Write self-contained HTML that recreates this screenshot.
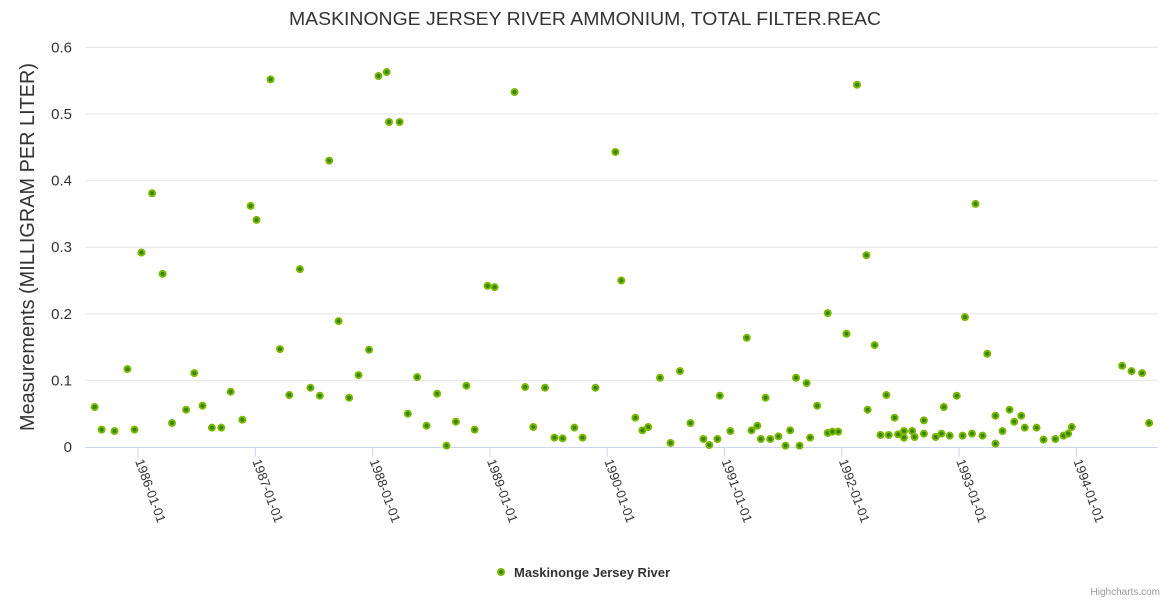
<!DOCTYPE html>
<html><head><meta charset="utf-8"><style>
body{margin:0;background:#fff;font-family:"Liberation Sans",sans-serif}
svg text{font-family:"Liberation Sans",sans-serif}
</style></head><body>
<svg id="chart" width="1170" height="600" xmlns="http://www.w3.org/2000/svg">
<rect width="1170" height="600" fill="#fff"/>
<text x="585" y="25" text-anchor="middle" font-size="18" fill="#333" textLength="592" lengthAdjust="spacingAndGlyphs">MASKINONGE JERSEY RIVER AMMONIUM, TOTAL FILTER.REAC</text>
<text transform="translate(34,247) rotate(-90)" text-anchor="middle" font-size="20" fill="#333" textLength="368" lengthAdjust="spacingAndGlyphs">Measurements (MILLIGRAM PER LITER)</text>
<g id="grid"></g><g id="xaxis"></g><g id="points"></g>
<g>
<circle cx="501" cy="572" r="4" fill="#7ab800"/><circle cx="501" cy="572" r="2" fill="#3a8500"/>
<text x="514" y="577" font-size="13" font-weight="bold" fill="#333">Maskinonge Jersey River</text></g>
<text x="1160" y="595" text-anchor="end" font-size="10" fill="#999">Highcharts.com</text>
</svg>
<script>
const yTicks=[0,0.1,0.2,0.3,0.4,0.5,0.6];
const yTickLabels=["0","0.1","0.2","0.3","0.4","0.5","0.6"];
const xTicks=[1986,1987,1988,1989,1990,1991,1992,1993,1994];
const xTickLabels=["1986-01-01","1987-01-01","1988-01-01","1989-01-01","1990-01-01","1991-01-01","1992-01-01","1993-01-01","1994-01-01"];
const dates=[1985.63,1985.69,1985.80,1985.91,1985.97,1986.03,1986.12,1986.21,1986.29,1986.41,1986.48,1986.55,1986.63,1986.71,1986.79,1986.89,1986.96,1987.01,1987.13,1987.21,1987.29,1987.38,1987.47,1987.55,1987.63,1987.71,1987.80,1987.88,1987.97,1988.05,1988.12,1988.14,1988.23,1988.30,1988.38,1988.46,1988.55,1988.63,1988.71,1988.80,1988.87,1988.98,1989.04,1989.21,1989.30,1989.37,1989.47,1989.55,1989.62,1989.72,1989.79,1989.90,1990.07,1990.12,1990.24,1990.30,1990.35,1990.45,1990.54,1990.62,1990.71,1990.82,1990.87,1990.94,1990.96,1991.05,1991.19,1991.23,1991.28,1991.31,1991.35,1991.39,1991.46,1991.52,1991.56,1991.61,1991.64,1991.70,1991.73,1991.79,1991.88,1991.88,1991.92,1991.97,1992.04,1992.13,1992.21,1992.22,1992.28,1992.33,1992.38,1992.40,1992.45,1992.48,1992.53,1992.53,1992.60,1992.62,1992.70,1992.70,1992.80,1992.85,1992.87,1992.92,1992.98,1993.03,1993.05,1993.11,1993.14,1993.20,1993.24,1993.31,1993.31,1993.37,1993.43,1993.47,1993.53,1993.56,1993.66,1993.72,1993.82,1993.89,1993.93,1993.96,1994.39,1994.47,1994.56,1994.62];
const values=[0.060,0.026,0.024,0.117,0.026,0.292,0.381,0.260,0.036,0.056,0.111,0.062,0.029,0.029,0.083,0.041,0.362,0.341,0.552,0.147,0.078,0.267,0.089,0.077,0.430,0.189,0.074,0.108,0.146,0.557,0.563,0.488,0.488,0.050,0.105,0.032,0.080,0.002,0.038,0.092,0.026,0.242,0.240,0.533,0.090,0.030,0.089,0.014,0.013,0.029,0.014,0.089,0.443,0.250,0.044,0.025,0.030,0.104,0.006,0.114,0.036,0.012,0.003,0.012,0.077,0.024,0.164,0.025,0.032,0.012,0.074,0.012,0.016,0.002,0.025,0.104,0.002,0.096,0.014,0.062,0.201,0.021,0.023,0.023,0.170,0.544,0.288,0.056,0.153,0.018,0.078,0.018,0.044,0.019,0.024,0.014,0.024,0.015,0.040,0.020,0.015,0.020,0.060,0.017,0.077,0.017,0.195,0.020,0.365,0.017,0.140,0.005,0.047,0.024,0.056,0.038,0.047,0.029,0.029,0.011,0.012,0.017,0.020,0.030,0.122,0.114,0.111,0.036];
const NS="http://www.w3.org/2000/svg";
const X0=85,X1=1158,Y0=447,Y1=47.4;
function xs(d){return 138+(d-1986)*117.3;}
function ys(v){return Y0-(v/0.6)*(Y0-Y1);}
function mk(t,a){const e=document.createElementNS(NS,t);for(const k in a)e.setAttribute(k,a[k]);return e;}
const grid=document.getElementById('grid');
yTicks.forEach((t,i)=>{
 if(i>0){const l=mk('line',{x1:X0,x2:X1,y1:ys(t),y2:ys(t),stroke:'#e6e6e6','stroke-width':1});
 
 
 grid.appendChild(l);}
 const tx=mk('text',{x:72,y:ys(t)+5,'text-anchor':'end','font-size':15,fill:'#333'});
 tx.textContent=yTickLabels[i];
 
 
 grid.appendChild(tx);
});
const xa=document.getElementById('xaxis');
const ax=mk('line',{x1:X0,x2:X1,y1:Y0+0.5,y2:Y0+0.5,stroke:'#ccd6eb','stroke-width':1});


xa.appendChild(ax);
xTicks.forEach((t,i)=>{
 const x=xs(t);
 const tk=mk('line',{x1:x,x2:x,y1:Y0,y2:Y0+10,stroke:'#ccd6eb','stroke-width':1});
 
 
 xa.appendChild(tk);
 const tx=mk('text',{transform:`translate(${x-3},${Y0+14}) rotate(70)`,'font-size':13,fill:'#333'});
 tx.textContent=xTickLabels[i];
 
 
 xa.appendChild(tx);
});
const pg=document.getElementById('points');
dates.forEach((d,i)=>{
 const g=mk('g',{});
 
 
 g.appendChild(mk('circle',{cx:xs(d),cy:ys(values[i]),r:4,fill:'#7ab800'}));
 g.appendChild(mk('circle',{cx:xs(d),cy:ys(values[i]),r:2,fill:'#3a8500'}));
 pg.appendChild(g);
});
</script>
</body></html>
